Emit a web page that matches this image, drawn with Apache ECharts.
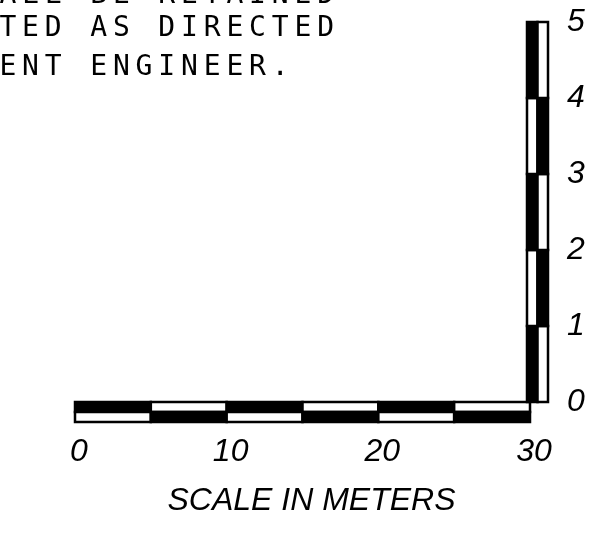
<!DOCTYPE html>
<html lang="en">
<head>
<meta charset="utf-8">
<script src="https://cdn.jsdelivr.net/npm/echarts@6/dist/echarts.min.js"></script>
<title>Scale in meters</title>
<style>
  html, body { margin: 0; padding: 0; background: #fff; }
  #chart { width: 597px; height: 533px; }
</style>
</head>
<body>
<div id="chart"></div>
<script>
// horizontal scale (meters), 5 m blocks, top row black where 1
var xBreaks = [0, 5, 10, 15, 20, 25, 30];
var xTopBlack = [1, 0, 1, 0, 1, 0];
var xTicks = [0, 10, 20, 30];

// vertical scale (meters), 1 m blocks, left column black where 1
var yBreaks = [0, 1, 2, 3, 4, 5];
var yLeftBlack = [1, 0, 1, 0, 1];

// note text, cut off on the left and top of the sheet
var noteLines = ['ALL BE RETAINED', 'TED AS DIRECTED', 'ENT ENGINEER.'];
var noteCenters = [-4, 29, 68];
var noteCell = 22.7;

var labelFont = 'Liberation Sans';

// build cells: [x0, x1, y0, y1, black]
var hCells = [];
for (var i = 0; i < xBreaks.length - 1; i++) {
    hCells.push([xBreaks[i], xBreaks[i + 1], 1, 2, xTopBlack[i]]);
    hCells.push([xBreaks[i], xBreaks[i + 1], 0, 1, 1 - xTopBlack[i]]);
}
var vCells = [];
for (var j = 0; j < yBreaks.length - 1; j++) {
    vCells.push([0, 1, yBreaks[j], yBreaks[j + 1], yLeftBlack[j]]);
    vCells.push([1, 2, yBreaks[j], yBreaks[j + 1], 1 - yLeftBlack[j]]);
}

function renderCell(params, api) {
    var p0 = api.coord([api.value(0), api.value(2)]);
    var p1 = api.coord([api.value(1), api.value(3)]);
    return {
        type: 'rect',
        shape: {
            x: Math.min(p0[0], p1[0]),
            y: Math.min(p0[1], p1[1]),
            width: Math.abs(p1[0] - p0[0]),
            height: Math.abs(p1[1] - p0[1])
        },
        style: {
            fill: api.value(4) ? '#000' : '#fff',
            stroke: '#000',
            lineWidth: 2.5
        }
    };
}

// header letters, one per fixed cell like the plotter font
var noteGraphics = [];
noteLines.forEach(function (line, li) {
    for (var k = 0; k < line.length; k++) {
        if (line[k] === ' ') continue;
        noteGraphics.push({
            type: 'text',
            x: k * noteCell + noteCell / 2 - 3.5,
            y: noteCenters[li],
            style: {
                text: line[k],
                fill: '#000',
                font: '28px "DejaVu Sans Mono"',
                align: 'center',
                verticalAlign: 'middle'
            }
        });
    }
});

var myChart = echarts.init(document.getElementById('chart'));
var option = {
    backgroundColor: '#fff',
    animation: false,
    grid: [
        { left: 75, width: 455, top: 402, height: 20 },
        { left: 527, width: 21, top: 22, height: 380 }
    ],
    xAxis: [
        {
            gridIndex: 0, type: 'value', min: 0, max: 30, interval: 10,
            axisLine: { show: false }, axisTick: { show: false }, splitLine: { show: false },
            axisLabel: {
                margin: 14, fontSize: 32, fontStyle: 'italic', fontFamily: labelFont,
                color: '#000', padding: [0, 0, 0, 8],
                customValues: xTicks
            },
            name: 'SCALE IN METERS', nameLocation: 'middle', nameGap: 63,
            nameTextStyle: { fontSize: 32, fontStyle: 'italic', fontFamily: labelFont, color: '#000', padding: [0, 0, 0, 18] }
        },
        {
            gridIndex: 1, type: 'value', min: 0, max: 2, show: false
        }
    ],
    yAxis: [
        { gridIndex: 0, type: 'value', min: 0, max: 2, show: false },
        {
            gridIndex: 1, type: 'value', min: 0, max: 5, interval: 1, position: 'right',
            axisLine: { show: false }, axisTick: { show: false }, splitLine: { show: false },
            axisLabel: { margin: 19, fontSize: 32, fontStyle: 'italic', fontFamily: labelFont, color: '#000' }
        }
    ],
    graphic: noteGraphics,
    series: [
        {
            type: 'custom', xAxisIndex: 0, yAxisIndex: 0, clip: false,
            renderItem: renderCell, data: hCells, silent: true
        },
        {
            type: 'custom', xAxisIndex: 1, yAxisIndex: 1, clip: false,
            renderItem: renderCell, data: vCells, silent: true
        }
    ]
};
myChart.setOption(option);
</script>
</body>
</html>
